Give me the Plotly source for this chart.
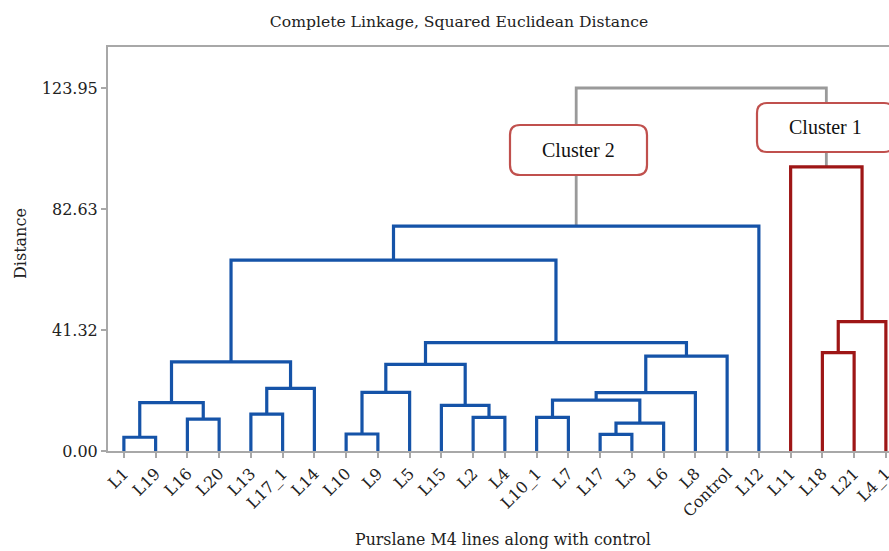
import plotly.graph_objects as go

# ---------------- data ----------------
leaves = ["L1", "L19", "L16", "L20", "L13", "L17_1", "L14", "L10", "L9", "L5",
          "L15", "L2", "L4", "L10_1", "L7", "L17", "L3", "L6", "L8", "Control",
          "L12", "L11", "L18", "L21", "L4_1"]

# merges: (name, left child, right child, distance)
merge_names = ["a", "b", "c", "d", "e", "f", "g", "h", "i", "j", "k", "l", "m",
               "n", "o", "p", "q", "r", "s", "t", "u", "v", "w", "x"]
merge_left = ["L1", "L16", "a", "L13", "d", "c", "L10", "g", "L2", "L15", "h",
              "L10_1", "L17", "m", "l", "o", "p", "k", "f", "s", "L18", "u", "L11", "t"]
merge_right = ["L19", "L20", "b", "L17_1", "L14", "e", "L9", "L5", "L4", "i", "j",
               "L7", "L3", "L6", "n", "L8", "Control", "q", "r", "L12", "L21", "L4_1", "v", "w"]
merge_dist = [4.7, 10.9, 16.5, 12.6, 21.4, 30.4, 5.8, 20.0, 11.5, 15.6, 29.6,
              11.5, 5.7, 9.5, 17.4, 19.9, 32.4, 37.0, 65.2, 76.8, 33.6, 44.2, 97.0, 123.95]
cluster2_root = "t"
cluster1_root = "w"

y_ticks = [0.0, 41.32, 82.63, 123.95]

# ---------------- layout constants (window pixels) ----------------
W, H = 889, 551
PL, PT, PB = 108, 47, 451          # plot area edges
ML, MT = PL, PT
PW, PH = W - PL, PB - PT
BLUE = "#1553a8"
RED = "#9e1616"
GRAY = "#9a9a9a"
AXIS = "#a8a8a8"
BOX = "#c0504d"
SERIF = "DejaVu Serif"
TIMES = "Liberation Serif, Times New Roman, serif"

# positions
pos = {name: i + 1 for i, name in enumerate(leaves)}
hgt = {name: 0.0 for name in leaves}
children = {}
for n, l, r, d in zip(merge_names, merge_left, merge_right, merge_dist):
    pos[n] = (pos[l] + pos[r]) / 2
    hgt[n] = d
    children[n] = (l, r)


def descendants(node):
    out = {node}
    if node in children:
        for c in children[node]:
            out |= descendants(c)
    return out


c1 = descendants(cluster1_root)
c2 = descendants(cluster2_root)

segs = {BLUE: ([], []), RED: ([], []), GRAY: ([], [])}
for n, l, r, d in zip(merge_names, merge_left, merge_right, merge_dist):
    col = BLUE if n in c2 else (RED if n in c1 else GRAY)
    xs, ys = segs[col]
    xs += [pos[l], pos[l], pos[r], pos[r], None]
    ys += [hgt[l], d, d, hgt[r], None]

fig = go.Figure()
for col in [GRAY, BLUE, RED]:
    xs, ys = segs[col]
    fig.add_trace(go.Scatter(x=xs, y=ys, mode="lines",
                             line=dict(color=col, width=3.2 if col != GRAY else 2.8),
                             hoverinfo="skip", showlegend=False, cliponaxis=False))

# x range chosen so the plot runs off the right edge like the reference
unit = 31.75
x0 = 0.5
x1 = x0 + PW / unit
y1 = 123.95 * PH / (PB - 88)

fig.update_layout(
    width=W, height=H,
    margin=dict(l=ML, r=0, t=MT, b=H - PB, pad=0, autoexpand=False),
    plot_bgcolor="white", paper_bgcolor="white",
    title=dict(text="Complete Linkage, Squared Euclidean Distance",
               x=459 / W, xanchor="center", xref="container",
               y=1 - 22 / H, yanchor="middle", yref="container",
               font=dict(family=SERIF, size=15.6, color="#222")),
    xaxis=dict(range=[x0, x1], tickmode="array", tickvals=list(range(1, len(leaves) + 1)),
               ticktext=leaves, tickangle=-45, showgrid=False, zeroline=False,
               showline=True, linecolor=AXIS, linewidth=2, mirror=True, automargin=False,
               ticks="outside", ticklen=5, tickcolor=AXIS, tickwidth=1.5,
               ticklabeloverflow="allow",
               tickfont=dict(family=SERIF, size=16, color="#222")),
    yaxis=dict(range=[0, y1], tickmode="array", tickvals=y_ticks,
               ticktext=[f"{v:.2f}" for v in y_ticks], showgrid=False, zeroline=False,
               showline=True, linecolor=AXIS, linewidth=2, automargin=False,
               ticks="outside", ticklen=5, tickcolor=AXIS, tickwidth=1.5,
               tickfont=dict(family=SERIF, size=16, color="#222")),
)


def px2paper(X, Y):
    return (X - PL) / PW, (PB - Y) / PH


def rounded_box(xa, ya, xb, yb, r=10):
    # pixel corners -> paper path with rounded corners
    rx, ry = r / PW, r / PH
    (a0, b0), (a1, b1) = px2paper(xa, ya), px2paper(xb, yb)  # b0 top > b1 bottom
    p = (f"M {a0+rx},{b0} L {a1-rx},{b0} Q {a1},{b0} {a1},{b0-ry} "
         f"L {a1},{b1+ry} Q {a1},{b1} {a1-rx},{b1} L {a0+rx},{b1} "
         f"Q {a0},{b1} {a0},{b1+ry} L {a0},{b0-ry} Q {a0},{b0} {a0+rx},{b0} Z")
    return p


for (xa, ya, xb, yb, txt) in [(510, 125, 647, 175, "Cluster 2"),
                              (757, 103, 894, 152, "Cluster 1")]:
    fig.add_shape(type="path", path=rounded_box(xa, ya, xb, yb), xref="paper", yref="paper",
                  line=dict(color=BOX, width=2.2), fillcolor="white", layer="above")
    cx, cy = px2paper((xa + xb) / 2, (ya + yb) / 2)
    fig.add_annotation(x=cx, y=cy, xref="paper", yref="paper", text=txt, showarrow=False,
                       xanchor="center", yanchor="middle",
                       font=dict(family=TIMES, size=20, color="#111"))

ax, ay = px2paper(503, 539)
fig.add_annotation(x=ax, y=ay, xref="paper", yref="paper",
                   text="Purslane M4 lines along with control", showarrow=False,
                   xanchor="center", yanchor="middle",
                   font=dict(family=SERIF, size=15.8, color="#222"))
bx, by = px2paper(20, 244)
fig.add_annotation(x=bx, y=by, xref="paper", yref="paper", text="Distance",
                   textangle=-90, showarrow=False, xanchor="center", yanchor="middle",
                   font=dict(family=SERIF, size=16, color="#222"))

fig.write_html("out.html",
               config={"displayModeBar": False},
               post_script="document.body.style.margin='0px';"
                           "document.body.style.overflow='hidden';")
